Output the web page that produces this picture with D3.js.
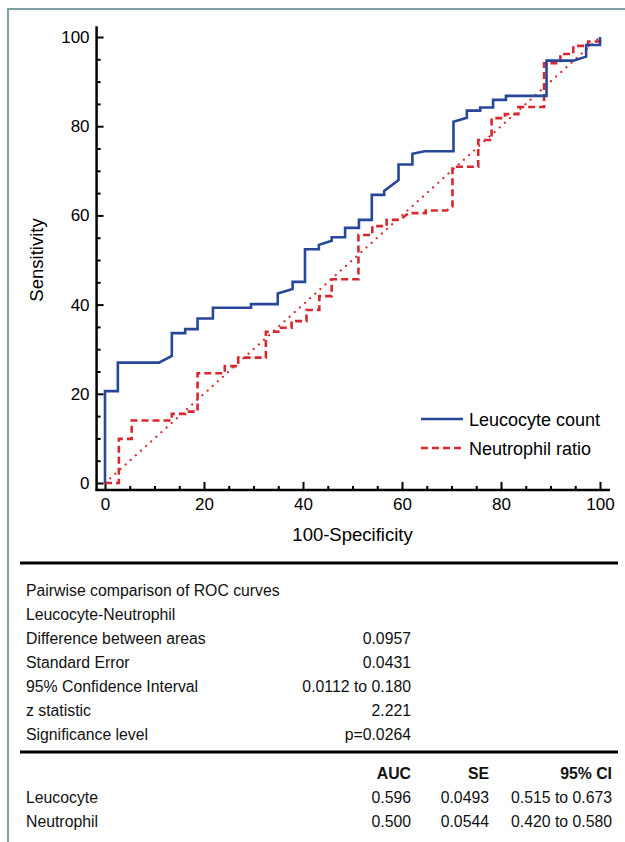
<!DOCTYPE html>
<html>
<head>
<meta charset="utf-8">
<script src="https://cdn.jsdelivr.net/npm/d3@7"></script>
<style>
  body { margin: 0; background: #fff; }
  svg { display: block; font-family: "Liberation Sans", Arial, sans-serif; }
</style>
</head>
<body>
<div id="chart"></div>
<script>
// ROC curve points (100-Specificity, Sensitivity)
const leucX = [0, 0, 2.6, 2.6, 10.9, 13.5, 13.5, 16.2, 16.2, 18.7, 18.7, 21.8, 21.8, 29.5, 29.5, 34.9, 34.9, 37.9, 37.9, 40.4, 40.4, 43.2, 43.2, 45.8, 45.8, 48.5, 48.5, 51.3, 51.3, 53.9, 53.9, 56.4, 56.4, 59.3, 59.3, 62.1, 62.1, 64.6, 70.4, 70.4, 73.1, 73.1, 75.8, 75.8, 78.4, 78.4, 81.0, 81.0, 89.2, 89.2, 94.6, 97.2, 97.2, 100, 100];
const leucY = [0, 20.6, 20.6, 27.0, 27.0, 28.5, 33.6, 33.6, 34.5, 34.5, 36.9, 36.9, 39.3, 39.3, 40.1, 40.1, 42.5, 43.5, 45.1, 45.1, 52.4, 52.4, 53.4, 54.3, 55.1, 55.1, 57.2, 57.2, 59.0, 59.0, 64.6, 64.6, 65.5, 67.9, 71.4, 71.4, 73.8, 74.4, 74.4, 81.0, 81.9, 83.5, 83.5, 84.2, 84.2, 85.9, 85.9, 86.8, 86.8, 94.7, 94.7, 95.6, 98.2, 98.2, 100];

const neutX = [0, 2.8, 2.8, 5.4, 5.4, 13.5, 13.5, 16.2, 16.2, 18.7, 18.7, 24.2, 24.2, 26.9, 26.9, 32.5, 32.5, 35.0, 35.0, 37.7, 37.7, 40.7, 40.7, 43.3, 43.3, 45.8, 45.8, 51.2, 51.2, 54.0, 54.0, 56.9, 56.9, 59.6, 61.3, 64.8, 64.8, 69.0, 70.2, 70.2, 75.4, 75.4, 78.1, 78.1, 80.8, 80.8, 83.5, 83.5, 88.7, 88.7, 92.0, 92.0, 94.6, 94.6, 97.6, 97.6, 100, 100];
const neutY = [0, 0, 9.9, 9.9, 14.0, 14.0, 15.5, 15.5, 16.0, 16.0, 24.6, 24.6, 26.2, 26.2, 28.1, 28.1, 33.9, 33.9, 34.8, 34.8, 36.3, 36.3, 38.8, 38.8, 41.9, 41.9, 45.7, 45.7, 55.6, 55.6, 57.6, 57.6, 59.0, 59.0, 60.5, 60.5, 61.1, 61.1, 62.0, 70.9, 70.9, 76.9, 76.9, 81.8, 81.8, 82.7, 82.7, 84.3, 84.3, 94.1, 94.1, 96.2, 96.2, 98.0, 98.0, 99.0, 99.0, 100];

const seriesNames = ["Leucocyte count", "Neutrophil ratio"];
const majorTicks = [0, 20, 40, 60, 80, 100];
const minorTicks = d3.range(0, 101, 5).filter(d => d % 20 !== 0);

// Tabla de comparacion
const pairTitle = ["Pairwise comparison of ROC curves", "Leucocyte-Neutrophil"];
const pairLabels = ["Difference between areas", "Standard Error", "95% Confidence Interval", "z statistic", "Significance level"];
const pairValues = ["0.0957", "0.0431", "0.0112 to 0.180", "2.221", "p=0.0264"];
const aucHeaders = ["AUC", "SE", "95% CI"];
const aucRows = ["Leucocyte", "Neutrophil"];
const aucValues = [["0.596", "0.0493", "0.515 to 0.673"], ["0.500", "0.0544", "0.420 to 0.580"]];

const W = 625, H = 842;
const blue = "#27479a", red = "#d8282f";

const svg = d3.select("#chart").append("svg")
  .attr("width", W).attr("height", H);

// marco exterior
svg.append("path")
  .attr("d", `M8,${H} L8,9 L${W},9`)
  .attr("fill", "none").attr("stroke", "#7fa2a6").attr("stroke-width", 2);

const x = d3.scaleLinear().domain([0, 100]).range([105, 600]);
const y = d3.scaleLinear().domain([0, 100]).range([483, 37]);

// ejes
const gx = svg.append("g").attr("transform", `translate(0,${y(-1.55)})`);
gx.call(d3.axisBottom(x).tickValues(majorTicks).tickSize(-8).tickSizeOuter(0).tickPadding(8));
gx.append("g").call(d3.axisBottom(x).tickValues(minorTicks).tickSize(-4).tickFormat(""));

const gy = svg.append("g").attr("transform", `translate(${x(-1.7)},0)`);
gy.call(d3.axisLeft(y).tickValues(majorTicks).tickSize(-7).tickSizeOuter(0).tickPadding(7));
gy.append("g").call(d3.axisLeft(y).tickValues(minorTicks).tickSize(-4).tickFormat(""));

svg.selectAll(".domain").remove();
svg.selectAll(".tick line").attr("stroke", "#000").attr("stroke-width", 2);
svg.selectAll(".tick text").attr("font-size", 17).attr("fill", "#000")
  .attr("font-family", "Liberation Sans, Arial, sans-serif");

svg.append("line")
  .attr("x1", x(-1.7)).attr("x2", x(-1.7))
  .attr("y1", y(-1.55) + 1).attr("y2", y(102.4))
  .attr("stroke", "#000").attr("stroke-width", 2.5);
svg.append("line")
  .attr("x1", x(-1.7) - 1).attr("x2", x(102))
  .attr("y1", y(-1.55)).attr("y2", y(-1.55))
  .attr("stroke", "#000").attr("stroke-width", 2.5);

// titulos de ejes
svg.append("text")
  .attr("transform", `translate(43,${y(50)}) rotate(-90)`)
  .attr("text-anchor", "middle").attr("font-size", 18.5)
  .text("Sensitivity");
svg.append("text")
  .attr("x", x(50)).attr("y", 541)
  .attr("text-anchor", "middle").attr("font-size", 18.5)
  .text("100-Specificity");

// diagonal de referencia
svg.append("line")
  .attr("x1", x(0)).attr("y1", y(0)).attr("x2", x(100)).attr("y2", y(100))
  .attr("stroke", red).attr("stroke-width", 2.2)
  .attr("stroke-linecap", "round").attr("stroke-dasharray", "0.1,6.8");

const line = d3.line().x(d => x(d[0])).y(d => y(d[1]));

svg.append("path")
  .datum(neutX.map((v, i) => [v, neutY[i]]))
  .attr("d", line).attr("fill", "none")
  .attr("stroke", red).attr("stroke-width", 2.6)
  .attr("stroke-dasharray", "7,4");

svg.append("path")
  .datum(leucX.map((v, i) => [v, leucY[i]]))
  .attr("d", line).attr("fill", "none")
  .attr("stroke", blue).attr("stroke-width", 2.6);

// leyenda
const legend = svg.append("g");
[blue, red].forEach((c, i) => {
  const ly = 419 + i * 29;
  legend.append("line")
    .attr("x1", 421).attr("x2", 463).attr("y1", ly).attr("y2", ly)
    .attr("stroke", c).attr("stroke-width", 2.6)
    .attr("stroke-dasharray", i === 1 ? "7,4" : null);
  legend.append("text")
    .attr("x", 469).attr("y", ly + 6.5).attr("font-size", 18)
    .text(seriesNames[i]);
});

// tabla
const table = svg.append("g").attr("font-size", 15.8).attr("fill", "#111");
const rule = yy => table.append("line")
  .attr("x1", 20).attr("x2", 618).attr("y1", yy).attr("y2", yy)
  .attr("stroke", "#000").attr("stroke-width", 3);
rule(563);
rule(752);

const rowH = 24;
pairTitle.forEach((t, i) => {
  table.append("text").attr("x", 26).attr("y", 596 + i * rowH).text(t);
});
pairLabels.forEach((t, i) => {
  const ty = 596 + (i + 2) * rowH;
  table.append("text").attr("x", 26).attr("y", ty).text(t);
  table.append("text").attr("x", 411).attr("y", ty)
    .attr("text-anchor", "end").text(pairValues[i]);
});

const colX = [411, 489, 612];
aucHeaders.forEach((t, j) => {
  table.append("text").attr("x", colX[j]).attr("y", 779)
    .attr("text-anchor", "end").attr("font-weight", "bold").text(t);
});
aucRows.forEach((t, i) => {
  const ty = 803 + i * rowH;
  table.append("text").attr("x", 26).attr("y", ty).text(t);
  aucValues[i].forEach((v, j) => {
    table.append("text").attr("x", colX[j]).attr("y", ty)
      .attr("text-anchor", "end").text(v);
  });
});
</script>
</body>
</html>
